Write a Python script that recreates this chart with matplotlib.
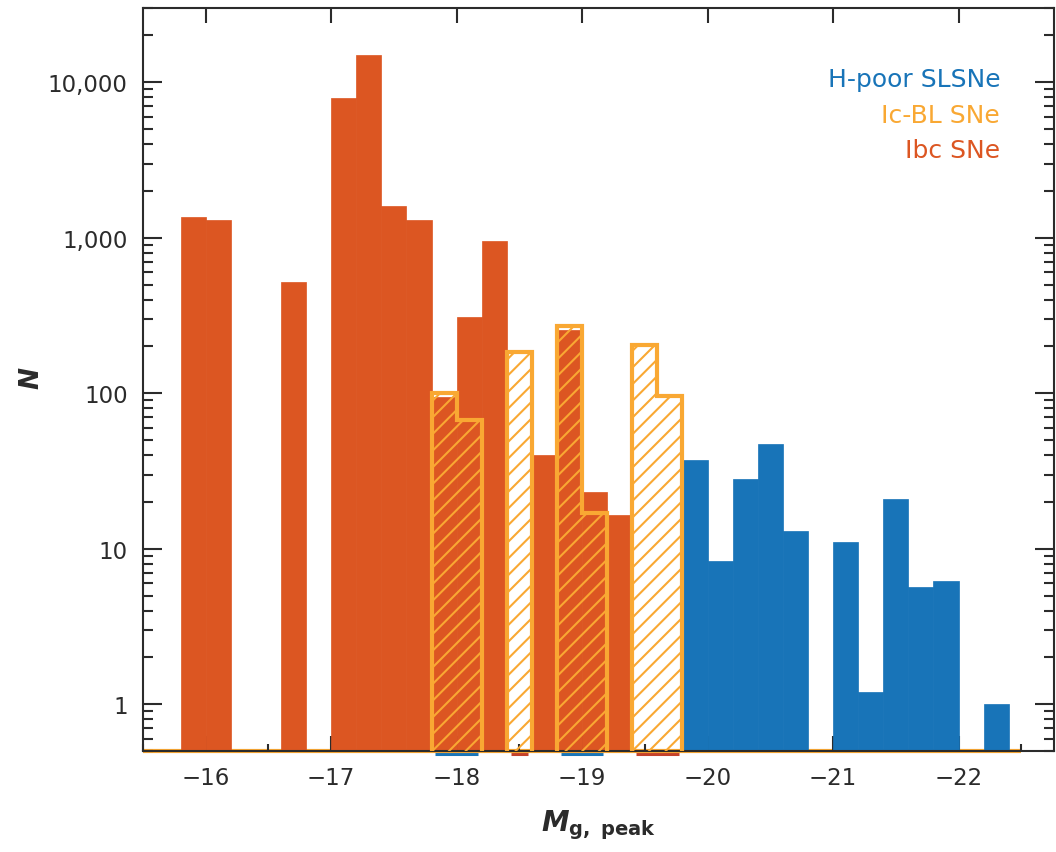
import numpy as np
import matplotlib
matplotlib.use("Agg")
import matplotlib.pyplot as plt
import matplotlib.transforms as mtransforms
from matplotlib.ticker import MultipleLocator, LogLocator, FuncFormatter

# histogram bins (peak g-band absolute magnitude), 0.2 mag wide
edges = np.round(np.arange(-15.6, -22.61, -0.2), 1)

# counts per bin
ibc_n = [0, 1350, 1300, 0, 0, 520, 0, 7900, 15000, 1600, 1300, 95, 310, 950,
         0, 40, 255, 23, 16.5, 0, 0, 0, 0, 0, 0, 0, 0, 0, 0, 0, 0, 0, 0, 0, 0]
icbl_n = [0, 0, 0, 0, 0, 0, 0, 0, 0, 0, 0, 100, 67, 0, 185, 0, 270, 17, 0,
          205, 96, 0, 0, 0, 0, 0, 0, 0, 0, 0, 0, 0, 0, 0, 0]
slsn_n = [0, 0, 0, 0, 0, 0, 0, 0, 0, 0, 0, 0, 0, 0, 0, 0, 0, 0, 0, 0, 0,
          37, 8.3, 28, 47, 13, 0, 11, 1.2, 21, 5.7, 6.2, 0, 1.0, 0]
icbl_range = (-15.5, -22.5)

labels = ["H-poor SLSNe", "Ic-BL SNe", "Ibc SNe"]
c_slsn = "#1874b8"
c_icbl = "#f9a833"
c_ibc = "#dc5622"
dark = "#2b2b2b"

plt.rcParams["mathtext.fontset"] = "custom"
plt.rcParams["mathtext.it"] = "DejaVu Sans:italic:bold"
plt.rcParams["mathtext.rm"] = "DejaVu Sans:bold"
plt.rcParams["hatch.linewidth"] = 1.5

fig = plt.figure(figsize=(10.56, 8.53), dpi=100)
ax = fig.add_axes([0.1354, 0.1184, 0.8626, 0.871])
ax.set_yscale("log")
ylow = 0.5

centers = (edges[:-1] + edges[1:]) / 2


def draw_bars(counts, color):
    c = np.asarray(counts, float)
    m = c > 0
    ax.bar(centers[m], c[m] - ylow, bottom=ylow, width=0.2, color=color,
           edgecolor=color, linewidth=0.5, zorder=2)


draw_bars(ibc_n, c_ibc)
draw_bars(slsn_n, c_slsn)

# Ic-BL: hatched step outline, one per contiguous run of bins
below = mtransforms.offset_copy(ax.transData, fig=fig, y=-3, units="dots")
c = np.asarray(icbl_n, float)
ibc_arr = np.asarray(ibc_n, float)
idx = np.flatnonzero(c > 0)
for run in np.split(idx, np.where(np.diff(idx) != 1)[0] + 1):
    vals = c[run][::-1]
    e = edges[run[0]:run[-1] + 2][::-1]
    ax.stairs(vals, e, baseline=ylow, fill=True, facecolor="none",
              edgecolor=c_icbl, hatch="//", linewidth=3, zorder=3)
    # small coloured strip under each group, as in the printed figure
    strip = c_slsn if ibc_arr[run[0]] > 0 else "#c4412a"
    ax.plot([e[-1] - 0.03, e[0] + 0.03], [ylow, ylow], color=strip,
            linewidth=2.2, transform=below, clip_on=False, zorder=1.4,
            solid_capstyle="butt")
ax.hlines(ylow, icbl_range[0], icbl_range[1], color=c_icbl, linewidth=3,
          zorder=1.5, clip_on=False)

ax.set_xlim(-15.5, -22.76)
ax.set_ylim(ylow, 30000)

ax.xaxis.set_major_locator(MultipleLocator(1))
ax.xaxis.set_minor_locator(MultipleLocator(0.5))
ax.xaxis.set_major_formatter(FuncFormatter(lambda v, p: "\u2212%d" % abs(round(v))))
ax.yaxis.set_major_locator(LogLocator(base=10, numticks=10))
ax.yaxis.set_minor_locator(LogLocator(base=10, subs=np.arange(2, 10), numticks=20))
ax.yaxis.set_major_formatter(FuncFormatter(lambda v, p: "{:,.0f}".format(v) if v >= 1 else ""))

for s in ax.spines.values():
    s.set_color(dark)
    s.set_linewidth(1.5)

ax.tick_params(axis="x", which="major", direction="in", length=11, width=1.5,
               top=True, bottom=True, labelsize=16.5, pad=11, colors=dark)
ax.tick_params(axis="x", which="minor", direction="in", length=5, width=1.5,
               top=False, bottom=True, colors=dark)
ax.tick_params(axis="y", which="major", direction="in", length=14, width=1.5,
               left=True, right=True, labelsize=16.5, pad=11, colors=dark)
ax.tick_params(axis="y", which="minor", direction="in", length=7, width=1.5,
               left=True, right=True, colors=dark)

ax.set_xlabel(r"$M_{\mathrm{g,\ peak}}$", fontsize=20, color=dark, labelpad=13)
fig.text(0.0294, 0.557, "N", rotation=90, ha="center", va="center",
         fontsize=19, fontweight="bold", fontstyle="italic", color=dark)

for lab, col, yy in zip(labels, [c_slsn, c_icbl, c_ibc], [0.8954, 0.8469, 0.799]):
    ax.text(0.941, yy, lab, transform=ax.transAxes, ha="right", va="baseline",
            fontsize=18, color=col)

fig.savefig("out.png", dpi=100)
